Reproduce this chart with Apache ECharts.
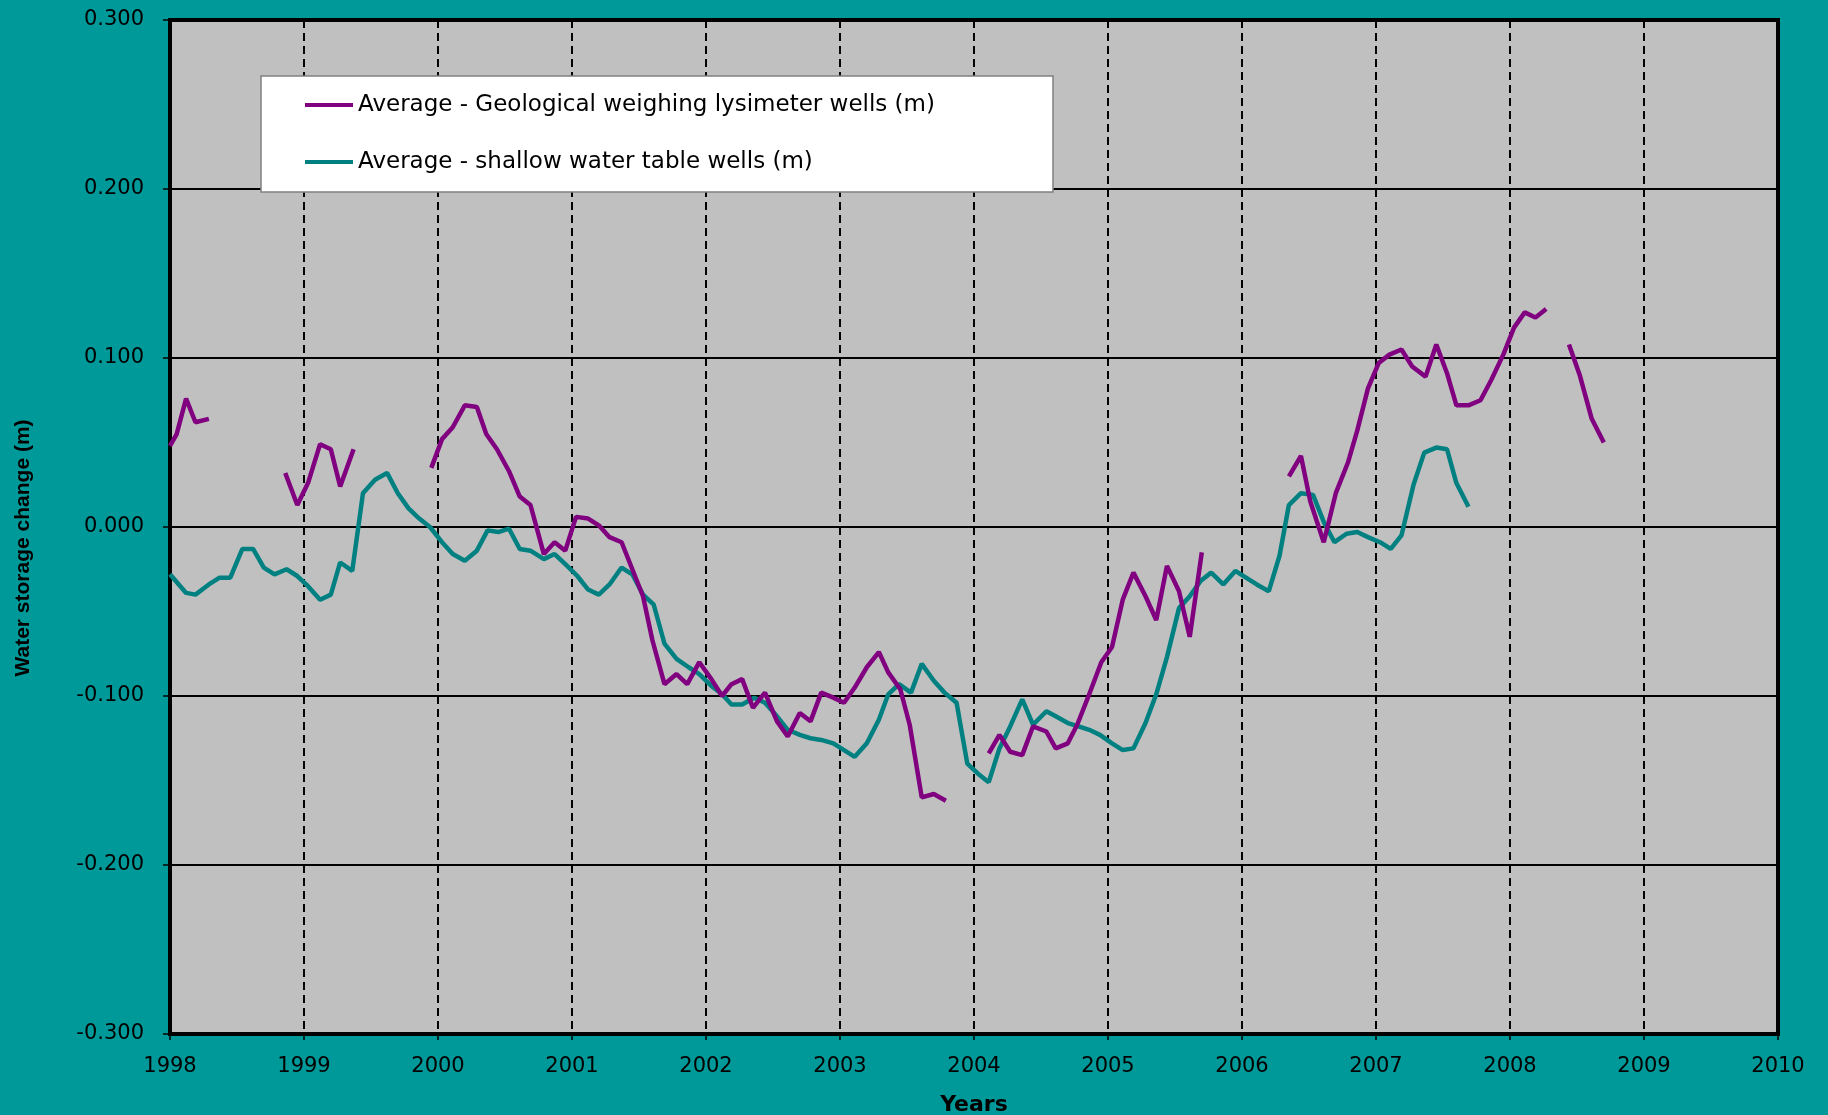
<!DOCTYPE html>
<html>
<head>
<meta charset="utf-8">
<script src="https://cdn.jsdelivr.net/npm/echarts@6/dist/echarts.min.js"></script>
<style>
html,body{margin:0;padding:0;background:#009999;}
#chart{width:1828px;height:1115px;}
</style>
</head>
<body>
<div id="chart"></div>
<script>
var seriesNames = ['Average - Geological weighing lysimeter wells (m)', 'Average - shallow water table wells (m)'];
var xTicks = [1998,1999,2000,2001,2002,2003,2004,2005,2006,2007,2008,2009,2010];
var yTicks = [-0.3,-0.2,-0.1,0,0.1,0.2,0.3];

// Geological weighing lysimeter wells (null = gap in record)
var geoYears = [
  1998.00,1998.05,1998.12,1998.19,1998.29, 1998.60,
  1998.86,1998.95,1999.03,1999.12,1999.20,1999.27,1999.37, 1999.60,
  1999.95,2000.03,2000.11,2000.20,2000.29,2000.36,2000.44,2000.53,2000.61,2000.69,2000.79,2000.87,2000.95,
  2001.03,2001.12,2001.20,2001.28,2001.37,2001.45,2001.53,2001.60,2001.69,2001.78,2001.86,2001.95,
  2002.04,2002.12,2002.19,2002.27,2002.35,2002.44,2002.53,2002.61,2002.70,2002.78,2002.86,2002.95,
  2003.03,2003.11,2003.20,2003.29,2003.36,2003.45,2003.52,2003.61,2003.70,2003.79, 2003.95,
  2004.11,2004.19,2004.27,2004.36,2004.44,2004.54,2004.61,2004.70,2004.77,2004.85,2004.95,
  2005.03,2005.11,2005.19,2005.28,2005.36,2005.44,2005.53,2005.61,2005.70, 2006.00,
  2006.35,2006.44,2006.51,2006.61,2006.70,2006.79,2006.86,2006.94,
  2007.02,2007.10,2007.19,2007.27,2007.37,2007.45,2007.53,2007.60,2007.69,2007.78,2007.86,2007.95,
  2008.03,2008.11,2008.19,2008.27, 2008.36,
  2008.44,2008.52,2008.61,2008.70
];
var geoValues = [
  0.048,0.055,0.076,0.062,0.064, null,
  0.032,0.013,0.026,0.049,0.046,0.024,0.046, null,
  0.035,0.052,0.059,0.072,0.071,0.055,0.046,0.033,0.018,0.013,-0.016,-0.009,-0.014,
  0.006,0.005,0.001,-0.006,-0.009,-0.025,-0.041,-0.067,-0.093,-0.087,-0.093,-0.080,
  -0.090,-0.100,-0.093,-0.090,-0.107,-0.098,-0.115,-0.124,-0.110,-0.115,-0.098,-0.101,
  -0.104,-0.095,-0.083,-0.074,-0.086,-0.096,-0.117,-0.160,-0.158,-0.162, null,
  -0.134,-0.123,-0.133,-0.135,-0.118,-0.121,-0.131,-0.128,-0.117,-0.101,-0.080,
  -0.071,-0.043,-0.027,-0.041,-0.055,-0.023,-0.038,-0.065,-0.015, null,
  0.030,0.042,0.015,-0.009,0.020,0.038,0.057,0.082,
  0.097,0.102,0.105,0.095,0.089,0.108,0.091,0.072,0.072,0.075,0.087,0.102,
  0.118,0.127,0.124,0.129, null,
  0.108,0.090,0.064,0.050
];

// Shallow water table wells
var shallowYears = [
  1998.00,1998.12,1998.19,1998.29,1998.37,1998.45,1998.54,1998.62,1998.70,1998.78,1998.87,1998.95,
  1999.03,1999.12,1999.20,1999.27,1999.36,1999.44,1999.53,1999.62,1999.70,1999.78,1999.86,1999.94,
  2000.03,2000.11,2000.20,2000.29,2000.37,2000.45,2000.53,2000.61,2000.69,2000.79,2000.87,2000.95,
  2001.04,2001.12,2001.20,2001.28,2001.37,2001.45,2001.53,2001.61,2001.69,2001.78,2001.87,2001.95,
  2002.04,2002.12,2002.19,2002.27,2002.36,2002.44,2002.53,2002.61,2002.70,2002.78,2002.86,2002.95,
  2003.03,2003.11,2003.20,2003.29,2003.36,2003.44,2003.53,2003.61,2003.70,2003.78,2003.87,2003.95,
  2004.03,2004.11,2004.19,2004.27,2004.36,2004.44,2004.54,2004.61,2004.70,2004.78,2004.86,2004.94,
  2005.03,2005.11,2005.19,2005.28,2005.36,2005.44,2005.53,2005.61,2005.69,2005.77,2005.86,2005.95,
  2006.03,2006.11,2006.20,2006.28,2006.35,2006.44,2006.53,2006.61,2006.69,2006.78,2006.86,2006.94,
  2007.03,2007.11,2007.19,2007.28,2007.36,2007.45,2007.53,2007.60,2007.69
];
var shallowValues = [
  -0.028,-0.039,-0.040,-0.034,-0.030,-0.030,-0.013,-0.013,-0.024,-0.028,-0.025,-0.029,
  -0.035,-0.043,-0.040,-0.021,-0.026,0.020,0.028,0.032,0.020,0.011,0.005,0.000,
  -0.009,-0.016,-0.020,-0.014,-0.002,-0.003,-0.001,-0.013,-0.014,-0.019,-0.016,-0.022,
  -0.029,-0.037,-0.040,-0.034,-0.024,-0.028,-0.040,-0.046,-0.069,-0.078,-0.083,-0.087,
  -0.094,-0.099,-0.105,-0.105,-0.101,-0.104,-0.112,-0.120,-0.123,-0.125,-0.126,-0.128,
  -0.132,-0.136,-0.128,-0.114,-0.099,-0.093,-0.098,-0.081,-0.091,-0.098,-0.104,-0.140,
  -0.146,-0.151,-0.131,-0.118,-0.102,-0.117,-0.109,-0.112,-0.116,-0.118,-0.120,-0.123,
  -0.128,-0.132,-0.131,-0.116,-0.099,-0.077,-0.048,-0.041,-0.032,-0.027,-0.034,-0.026,
  -0.030,-0.034,-0.038,-0.017,0.013,0.020,0.019,0.003,-0.009,-0.004,-0.003,-0.006,
  -0.009,-0.013,-0.005,0.025,0.044,0.047,0.046,0.026,0.012
];

function zip(xs, ys) {
  return xs.map(function (x, i) { return [x, ys[i]]; });
}

var chart = echarts.init(document.getElementById('chart'), null, {renderer: 'canvas'});
chart.setOption({
  backgroundColor: '#009999',
  animation: false,
  grid: {
    left: 170, right: 50, top: 20, bottom: 81,
    show: true, backgroundColor: '#C0C0C0',
    borderColor: '#000', borderWidth: 4,
    containLabel: false,
    outerBoundsMode: 'none'
  },
  legend: {
    orient: 'vertical',
    left: 305, top: 93,
    padding: 0,
    itemGap: 33,
    itemWidth: 48, itemHeight: 4,
    icon: 'rect',
    textStyle: {fontFamily: 'DejaVu Sans', fontSize: 23, color: '#000', lineHeight: 24},
    data: seriesNames,
    z: 10
  },
  graphic: [
    {
      type: 'rect', z: 5,
      shape: {x: 261, y: 76, width: 792, height: 116},
      style: {fill: '#ffffff', stroke: '#808080', lineWidth: 1.5}
    },
    {
      type: 'text', z: 5,
      x: 23, y: 548, rotation: Math.PI / 2,
      style: {
        text: 'Water storage change (m)',
        font: 'bold 21px "Liberation Sans", Arial, sans-serif',
        fill: '#000',
        textAlign: 'center', textVerticalAlign: 'middle'
      }
    }
  ],
  xAxis: {
    type: 'value',
    min: xTicks[0], max: xTicks[xTicks.length - 1], interval: 1,
    name: 'Years', nameLocation: 'middle', nameGap: 60,
    nameTextStyle: {fontFamily: 'DejaVu Sans', fontWeight: 'bold', fontSize: 22, color: '#000'},
    axisLine: {show: true, onZero: false, lineStyle: {color: '#000', width: 4}},
    axisTick: {show: true, inside: false, length: 6, lineStyle: {color: '#000', width: 1.5}},
    axisLabel: {
      margin: 22, color: '#000', fontFamily: 'DejaVu Sans', fontSize: 21,
      formatter: function (v) { return String(Math.round(v)); }
    },
    splitLine: {show: true, lineStyle: {color: '#000', width: 2, type: [8, 5]}}
  },
  yAxis: {
    type: 'value',
    min: yTicks[0], max: yTicks[yTicks.length - 1], interval: 0.1,
    axisLine: {show: true, onZero: false, lineStyle: {color: '#000', width: 4}},
    axisTick: {show: true, inside: false, length: 7, lineStyle: {color: '#000', width: 1.5}},
    axisLabel: {
      margin: 26, color: '#000', fontFamily: 'DejaVu Sans', fontSize: 21,
      formatter: function (v) { return Math.abs(v) < 1e-9 ? '0.000' : v.toFixed(3); }
    },
    splitLine: {show: true, lineStyle: {color: '#000', width: 2}}
  },
  series: [
    {
      name: seriesNames[0], type: 'line',
      data: zip(geoYears, geoValues),
      showSymbol: false, connectNulls: false,
      lineStyle: {color: '#800080', width: 4.5},
      itemStyle: {color: '#800080'},
      z: 3
    },
    {
      name: seriesNames[1], type: 'line',
      data: zip(shallowYears, shallowValues),
      showSymbol: false, connectNulls: false,
      lineStyle: {color: '#008080', width: 4.5},
      itemStyle: {color: '#008080'},
      z: 2
    }
  ]
});
</script>
</body>
</html>
